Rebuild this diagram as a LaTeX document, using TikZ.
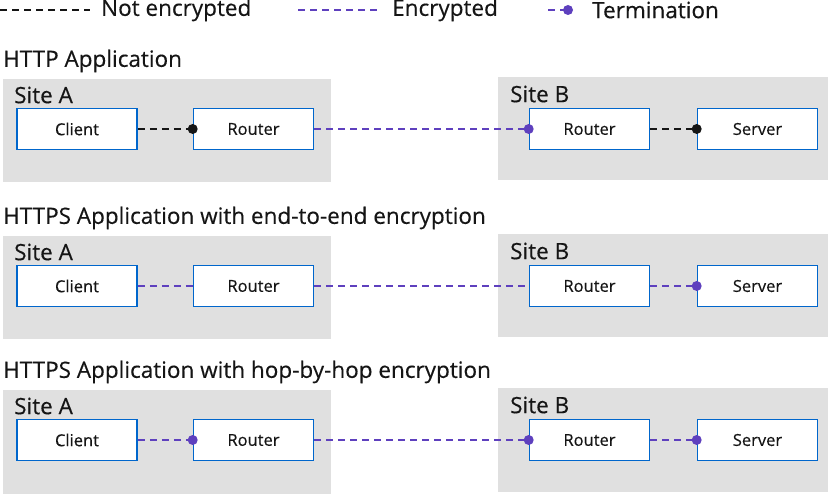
\documentclass[tikz,border=0pt]{standalone}
\usepackage{fontspec}
\setmainfont{Open Sans}[FakeBold=0.35]
\usepackage{xcolor}
\definecolor{rhblue}{HTML}{0066CC}
\definecolor{rhpurple}{HTML}{5E40BE}
\definecolor{sitegray}{HTML}{E0E0E0}
\definecolor{ink}{HTML}{151515}

\begin{document}
\begin{tikzpicture}[x=1pt,y=-1pt,
  box/.style={draw=rhblue,line width=1.6pt,fill=white,minimum width=120pt,minimum height=41pt,inner sep=0pt,font=\fontsize{16.5}{18}\selectfont,text=ink},
  site/.style={fill=sitegray,minimum height=103pt,inner sep=0pt},
  sitelabel/.style={anchor=west,inner sep=0pt,font=\fontsize{22.5}{24}\selectfont,text=ink},
  title/.style={anchor=west,inner sep=0pt,font=\fontsize{22.5}{24}\selectfont,text=ink},
  plain/.style={draw=ink,line width=1.6pt,dash pattern=on 7pt off 5pt},
  enc/.style={draw=rhpurple,line width=1.6pt,dash pattern=on 7pt off 5pt}]
\useasboundingbox (0,0) rectangle (828,494);

% legend
\coordinate (k0) at (0,10); \coordinate (k1) at (298,10); \coordinate (k2) at (548,10); \coordinate (k3) at (568,10);
\node[title,inner xsep=11pt] (notenc) at (90,10) {Not encrypted};
\node[title,inner xsep=11pt] (enclab) at (381,10) {Encrypted};
\node[title] (termlab) at (592,10) {Termination};
\draw[plain] (k0) -- (notenc.west);
\draw[enc] (k1) -- (enclab.west);
\draw[enc] (k2) -- (k3); \fill[rhpurple] (k3) circle (5pt);

% the three rows
\foreach \r/\L/\t in {1/129/HTTP Application,2/286/HTTPS Application with end-to-end encryption,3/440/HTTPS Application with hop-by-hop encryption}{
  \node[title] (title\r) at (3,\L-68) {\t};
  \node[site,minimum width=328pt] (siteA\r) at (167,\L+2) {};
  \node[site,minimum width=330pt] (siteB\r) at (663,\L) {};
  \node[sitelabel] at (14,\L-34) {Site A};
  \node[sitelabel] at (510,\L-35) {Site B};
  \node[box] (client\r) at (77,\L) {Client};
  \node[box] (routerA\r) at (253.5,\L) {Router};
  \node[box] (routerB\r) at (589.5,\L) {Router};
  \node[box] (server\r) at (757.5,\L) {Server};
}

% HTTP
\draw[plain] (client1) -- (routerA1);
\draw[enc] (routerA1) -- (routerB1);
\draw[plain] (routerB1) -- (server1);
\fill[ink] (routerA1.west) circle (5pt);
\fill[rhpurple] (routerB1.west) circle (5pt);
\fill[ink] (server1.west) circle (5pt);

% end-to-end
\draw[enc] (client2) -- (routerA2);
\draw[enc] (routerA2) -- (routerB2);
\draw[enc] (routerB2) -- (server2);
\fill[rhpurple] (server2.west) circle (5pt);

% hop-by-hop
\draw[enc] (client3) -- (routerA3);
\draw[enc] (routerA3) -- (routerB3);
\draw[enc] (routerB3) -- (server3);
\foreach \n in {routerA3,routerB3,server3}{\fill[rhpurple] (\n.west) circle (5pt);}
\end{tikzpicture}
\end{document}
